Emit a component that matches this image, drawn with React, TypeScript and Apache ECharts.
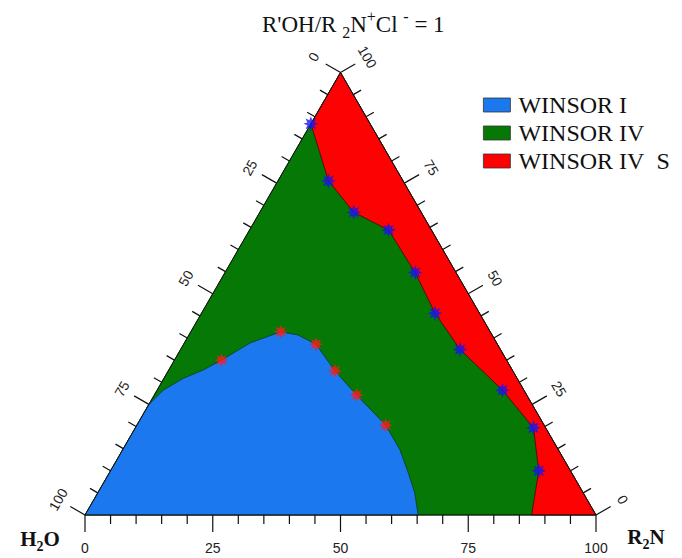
import React, { useEffect, useRef } from "react";
import * as echarts from "echarts";

// Ternary data: [R2N %, R'OH/R2N+Cl- %]  (H2O % = 100 - both)
const triangleCorners: [number, number][] = [
  [0, 0],
  [100, 0],
  [0, 100],
];

// WINSOR I / WINSOR IV boundary, from the H2O–top edge down to the base
const winsorIBoundary: [number, number][] = [
  [0, 24.9], [1.2, 28.2], [3.8, 30.9], [6.8, 32.8], [9.2, 35.0], [12.9, 38.9],
  [17.6, 41.4], [21.3, 40.7], [25.9, 38.6], [32.6, 32.6], [39.6, 27.1],
  [48.7, 20.3], [54.3, 14.7], [58.6, 9.4], [62.1, 4.9], [65.2, 0],
];

// WINSOR IV / WINSOR IV S boundary, from the top vertex down to the base
const winsorIVSBoundary: [number, number][] = [
  [0, 100], [0, 88.4], [9.9, 75.5], [18.4, 68.4], [27.2, 64.4], [37.2, 54.8],
  [45.7, 45.6], [54.7, 37.4], [67.6, 28.2], [77.9, 19.7], [83.8, 10.0],
  [85.6, 5.0], [87.4, 0],
];

const blueStars: [number, number][] = [
  [0, 88.4], [9.9, 75.5], [18.4, 68.4], [27.2, 64.4], [37.2, 54.8],
  [45.7, 45.6], [54.7, 37.4], [67.6, 28.2], [77.9, 19.7], [83.8, 10.0],
];

const redStars: [number, number][] = [
  [9.2, 35.0], [17.6, 41.4], [25.9, 38.6], [32.6, 32.6], [39.6, 27.1], [48.7, 20.3],
];

const tickValues = [0, 5, 10, 15, 20, 25, 30, 35, 40, 45, 50, 55, 60, 65, 70, 75, 80, 85, 90, 95, 100];
const tickLabels = [0, 25, 50, 75, 100];

const seriesNames = ["WINSOR I", "WINSOR IV", "WINSOR IV\u00a0\u00a0S"];
const seriesColors = ["#1b78ee", "#067806", "#fd0202"];

const SQ = Math.sqrt(3) / 2;
const toXY = (p: [number, number]): [number, number] => [
  (p[0] + p[1] / 2) / 100,
  (p[1] / 100) * SQ,
];

const starSymbol = (() => {
  let d = "";
  for (let i = 0; i < 16; i++) {
    const r = i % 2 ? 0.5 : 1;
    const a = (i * Math.PI) / 8 - Math.PI / 2;
    d += (i ? "L" : "M") + (r * Math.cos(a)).toFixed(3) + " " + (r * Math.sin(a)).toFixed(3);
  }
  return "path://" + d + "Z";
})();

const SERIF = "Liberation Serif, Times New Roman, serif";

const polygonSeries = (
  name: string,
  pts: [number, number][],
  color: string,
  z: number,
  stroke: string
) => ({
  type: "custom",
  name,
  coordinateSystem: "cartesian2d",
  clip: false,
  silent: true,
  z,
  itemStyle: { color },
  data: pts.map(toXY),
  renderItem: (params: any, api: any) => {
    if (params.dataIndex !== 0) return null;
    return {
      type: "polygon",
      shape: { points: pts.map((p) => api.coord(toXY(p))) },
      style: { fill: color, stroke, lineWidth: 0.8 },
    };
  },
});

const cornerLabel = (main1: string, sub: string, main2: string, x: number, y: number) => ({
  type: "text",
  x,
  y,
  style: {
    text: `{n|${main1}}{sub|${sub}}{n|${main2}}`,
    align: "center",
    verticalAlign: "middle",
    rich: {
      n: { fontFamily: SERIF, fontSize: 21, fontWeight: "bold", fill: "#111", lineHeight: 28 },
      sub: {
        fontFamily: SERIF,
        fontSize: 14,
        fontWeight: "bold",
        fill: "#111",
        lineHeight: 14,
        verticalAlign: "bottom",
      },
    },
  },
});

export default function App() {
  const ref = useRef<HTMLDivElement>(null);

  useEffect(() => {
    if (!ref.current) return;
    const chart = echarts.init(ref.current, undefined, { renderer: "svg" });

    const bluePoly: [number, number][] = [[0, 0], ...[...winsorIBoundary].reverse()];
    const redPoly: [number, number][] = [...winsorIVSBoundary, [100, 0]];

    const labelFont = {
      fontFamily: "Liberation Sans, Arial, sans-serif",
      fontSize: 14,
      fill: "#222",
    };

    const option: any = {
      animation: false,
      backgroundColor: "#ffffff",
      title: {
        text: "{n|R'OH/R }{sub|2}{n|N}{sup|+}{n|Cl }{sup|-}{n| = 1}",
        left: 262,
        top: 8,
        padding: 0,
        textStyle: {
          fontWeight: "normal",
          rich: {
            n: { fontFamily: SERIF, fontSize: 23, fontWeight: "normal", color: "#111", lineHeight: 32 },
            sub: {
              fontFamily: SERIF,
              fontSize: 16,
              fontWeight: "normal",
              color: "#111",
              lineHeight: 16,
              verticalAlign: "bottom",
            },
            sup: {
              fontFamily: SERIF,
              fontSize: 16,
              fontWeight: "normal",
              color: "#111",
              lineHeight: 16,
              verticalAlign: "top",
            },
          },
        },
      },
      legend: {
        orient: "vertical",
        left: 483,
        top: 93,
        padding: 0,
        icon: "rect",
        itemWidth: 27,
        itemHeight: 14,
        itemGap: 4,
        selectedMode: false,
        data: seriesNames,
        itemStyle: { borderColor: "#333", borderWidth: 0.8 },
        textStyle: {
          fontFamily: SERIF,
          fontSize: 24,
          color: "#111",
          lineHeight: 22,
          padding: [0, 0, 0, 3],
        },
      },
      grid: { left: 85, top: 72.5, width: 511, height: 442.5 },
      xAxis: { type: "value", min: 0, max: 1, show: false },
      yAxis: { type: "value", min: 0, max: SQ, show: false },
      graphic: [cornerLabel("H", "2", "O", 40, 539), cornerLabel("R", "2", "N", 646, 537)],
      series: [
        polygonSeries(seriesNames[1], triangleCorners, seriesColors[1], 1, "#0a3a0a"),
        polygonSeries(seriesNames[0], bluePoly, seriesColors[0], 2, "#0b3a1a"),
        polygonSeries(seriesNames[2], redPoly, seriesColors[2], 2, "#3a0a0a"),
        {
          type: "custom",
          name: "outline",
          coordinateSystem: "cartesian2d",
          clip: false,
          silent: true,
          z: 3,
          data: triangleCorners.map(toXY),
          renderItem: (params: any, api: any) => {
            if (params.dataIndex !== 0) return null;
            return {
              type: "polygon",
              shape: { points: triangleCorners.map((p) => api.coord(toXY(p))) },
              style: { fill: "none", stroke: "#111", lineWidth: 1 },
            };
          },
        },
        {
          type: "custom",
          name: "ticks",
          coordinateSystem: "cartesian2d",
          clip: false,
          silent: true,
          z: 3,
          data: tickValues.map((v) => [v, 0]),
          encode: { x: 0, y: 1 },
          renderItem: (params: any, api: any) => {
            const v = api.value(0);
            const major = tickLabels.indexOf(v) >= 0;
            const sides = [
              { p: [v, 0] as [number, number], d: [0, 1], rot: 0, off: 33 },
              { p: [0, 100 - v] as [number, number], d: [-0.866, -0.5], rot: Math.PI / 3, off: 31 },
              { p: [100 - v, v] as [number, number], d: [0.866, -0.5], rot: -Math.PI / 3, off: 31 },
            ];
            const children: any[] = [];
            sides.forEach((s) => {
              const c = api.coord(toXY(s.p));
              const len = major ? 17 : 9;
              children.push({
                type: "line",
                shape: { x1: c[0], y1: c[1], x2: c[0] + s.d[0] * len, y2: c[1] + s.d[1] * len },
                style: { stroke: "#111", lineWidth: 1.2 },
              });
              if (major) {
                children.push({
                  type: "text",
                  x: c[0] + s.d[0] * s.off,
                  y: c[1] + s.d[1] * s.off,
                  rotation: s.rot,
                  style: {
                    text: String(v),
                    align: "center",
                    verticalAlign: "middle",
                    ...labelFont,
                  },
                });
              }
            });
            return { type: "group", children };
          },
        },
        {
          type: "scatter",
          name: "IV-IVS points",
          data: blueStars.map(toXY),
          symbol: starSymbol,
          symbolSize: 15,
          silent: true,
          z: 5,
          itemStyle: { color: "#1515f0" },
        },
        {
          type: "scatter",
          name: "I-IV points",
          data: redStars.map(toXY),
          symbol: starSymbol,
          symbolSize: 14,
          silent: true,
          z: 5,
          itemStyle: { color: "#ff1a1a" },
        },
      ],
    };

    chart.setOption(option);
    return () => chart.dispose();
  }, []);

  return (
    <div
      ref={ref}
      style={{ position: "absolute", left: 0, top: 0, width: 682, height: 558 }}
    />
  );
}
